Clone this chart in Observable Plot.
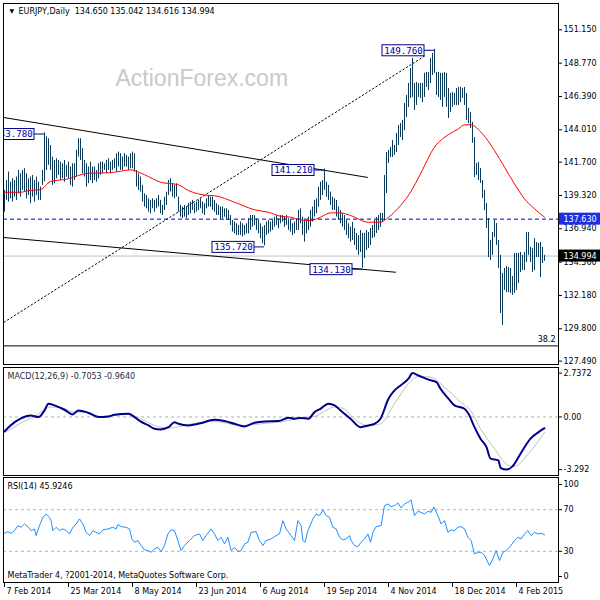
<!DOCTYPE html>
<html><head><meta charset="utf-8">
<script src="https://cdn.jsdelivr.net/npm/d3@7"></script>
<script src="https://cdn.jsdelivr.net/npm/@observablehq/plot@0.6"></script>
<style>
html,body{margin:0;padding:0;background:#fff}
#chart{position:relative;width:600px;height:600px;overflow:hidden;background:#fff}
#chart svg{position:absolute;left:0;background:#fff}
</style></head><body><div id="chart"></div>
<script>
// ---------- data ----------
const barHigh = [139.68,140.39,140.99,140.27,140.51,140.39,140.63,141.11,140.87,141.11,
141.23,140.87,140.51,140.63,140.75,140.39,140.63,140.27,139.92,141.11,
143.78,143.49,143.37,142.89,142.06,141.82,141.94,141.82,141.70,141.58,
141.82,141.47,141.70,141.35,141.58,141.58,142.54,143.37,143.37,142.66,
141.82,141.58,141.35,141.70,141.35,141.35,141.11,141.58,141.70,141.70,
141.58,141.82,141.94,141.70,141.82,141.94,142.30,142.42,142.30,142.06,
142.30,142.18,142.06,142.30,142.42,142.30,141.11,140.87,140.63,140.04,
139.44,139.32,139.08,138.97,139.08,138.97,139.08,139.32,138.97,138.61,
139.20,139.56,140.39,140.51,140.16,140.04,140.16,139.20,138.61,138.49,
138.61,138.49,138.73,138.85,138.97,138.73,138.85,138.97,139.08,138.85,
138.73,139.08,139.32,139.20,139.20,138.97,138.73,138.61,138.49,138.49,
138.37,138.37,138.25,137.89,137.54,137.42,137.30,137.18,137.42,137.30,
137.18,137.30,137.66,137.89,137.89,137.89,137.66,137.54,137.30,137.06,
137.18,137.42,137.54,137.42,137.54,137.77,137.89,137.66,137.89,137.89,
137.77,137.89,137.66,137.54,137.30,137.42,137.66,138.25,138.37,137.78,
137.54,137.54,137.78,138.25,138.49,138.97,139.08,139.92,140.27,140.39,
141.21,140.27,140.04,139.56,139.20,139.08,138.97,138.49,138.25,138.01,
137.89,137.54,137.30,137.06,137.39,136.96,136.61,136.46,136.82,136.61,
136.61,136.82,136.68,136.96,137.18,137.54,137.75,137.89,138.04,138.04,
140.75,142.39,142.54,142.75,143.25,142.89,143.75,144.32,144.46,144.68,
145.89,146.46,147.32,148.39,149.11,147.32,147.39,147.32,147.32,147.32,
148.04,148.11,148.11,149.11,149.46,149.76,148.11,148.11,148.04,148.04,
148.11,148.04,146.96,146.61,146.68,146.61,146.96,147.04,147.04,146.96,
147.04,146.61,145.54,145.25,144.54,143.46,141.61,141.68,141.25,140.39,
139.68,138.75,137.68,136.11,136.68,137.54,137.32,136.11,135.04,133.75,
134.11,134.25,134.18,134.11,133.54,135.18,135.18,135.18,135.25,135.04,
135.25,136.68,136.68,135.61,135.54,136.25,135.96,135.89,135.96,135.61,
135.042];
const barLow = [138.13,138.97,138.85,139.08,138.85,139.20,138.97,139.44,139.20,139.68,
139.56,139.08,139.32,138.73,139.20,138.85,139.32,138.97,138.97,140.04,
140.30,141.11,141.47,141.11,140.04,140.16,140.51,140.75,140.39,140.51,
140.27,140.63,140.51,140.04,139.92,140.39,140.63,142.06,141.82,140.87,
140.63,139.92,140.16,140.39,140.16,140.39,140.27,140.51,140.75,140.87,
141.11,140.87,141.11,140.87,141.11,141.23,140.99,141.35,141.11,141.11,
141.35,141.35,141.11,141.23,141.23,140.99,139.92,139.68,139.56,138.85,
138.49,138.37,138.13,138.01,138.37,138.13,138.37,138.49,138.01,137.89,
138.25,138.61,139.32,139.56,139.20,139.08,139.20,138.13,137.77,137.66,
137.77,137.66,137.89,138.01,138.25,138.01,138.13,138.25,138.37,138.01,
137.89,138.37,138.49,138.49,138.25,138.13,137.89,137.89,137.54,137.66,
137.77,137.54,137.54,137.18,136.70,136.58,136.47,136.47,136.47,136.35,
136.47,136.58,136.58,136.82,137.06,137.18,136.82,136.58,136.23,135.87,
135.72,136.47,136.58,136.70,136.82,137.06,137.18,136.94,137.30,137.42,
137.06,137.18,136.82,136.70,136.47,136.58,136.82,136.82,137.30,136.47,
135.99,136.58,136.82,137.06,137.42,137.78,138.01,138.49,138.97,139.32,
139.68,139.20,138.97,138.61,138.25,138.25,137.78,137.54,137.30,137.06,
136.82,136.47,136.23,135.99,136.11,135.75,135.39,135.04,135.25,134.13,
134.82,135.39,135.54,135.75,136.25,136.32,136.61,136.82,137.04,137.39,
137.54,139.46,141.61,142.04,142.04,142.18,142.39,142.89,143.46,143.25,
143.96,144.89,145.61,146.25,146.32,145.39,145.75,146.32,146.25,145.96,
146.32,147.04,146.82,147.32,147.89,148.04,146.46,146.32,146.11,145.61,
146.32,145.61,144.82,145.25,145.61,145.75,145.75,145.75,145.96,146.25,
145.75,144.68,144.46,144.11,143.04,140.61,140.75,140.39,140.18,139.11,
138.25,136.96,134.89,134.68,135.04,136.32,135.75,134.11,130.89,130.04,
132.54,132.39,132.39,132.32,132.18,132.32,132.54,133.04,133.82,133.96,
133.96,134.54,135.04,134.54,133.82,133.96,134.89,134.89,133.46,134.46,
134.616];

const maIdx = [0,8,12,18,23,32,37,42,52,58,63,70,78,87,92,102,105,115,125,132,138,143,148,153,158,163,168,173,182,188,192,198,203,208,215,222,227,230,233,239,245,250,255,260,265,270];
const maVal = [139.55,139.55,139.67,139.74,140.32,140.51,140.75,140.91,140.94,141.05,141.15,140.80,140.27,140.08,139.67,139.32,139.30,138.84,138.30,138.12,137.84,137.77,137.58,137.53,137.77,138.08,138.08,137.89,137.41,137.41,137.77,138.60,139.55,140.87,142.77,143.67,144.08,144.37,144.37,143.72,142.53,141.34,140.15,139.08,138.37,137.77];

const macdIdx = [0,3,8,13,17,20,22,25,30,34,37,41,43,47,52,55,62,65,68,72,75,78,82,85,87,92,98,105,110,115,120,125,130,137,142,145,148,152,155,158,162,165,168,173,178,182,185,188,192,195,198,202,204,207,212,216,218,222,225,230,232,235,238,241,243,247,248,251,254,258,263,267,270];
const macdVal = [-0.91,-0.53,-0.11,0.09,-0.01,0.41,0.83,0.72,0.45,0.16,0.41,0.30,0.20,-0.01,0.03,0.14,0.20,-0.01,-0.28,-0.53,-0.74,-0.78,-0.64,-0.33,-0.43,-0.53,-0.39,-0.18,-0.26,-0.43,-0.59,-0.36,-0.28,-0.26,-0.05,-0.11,-0.06,-0.11,0.30,0.51,0.83,0.72,0.41,-0.11,-0.64,-0.53,-0.43,-0.11,1.14,1.66,1.97,2.39,2.74,2.59,2.33,2.18,1.76,1.14,0.72,0.51,0.20,-0.64,-1.36,-1.89,-2.61,-2.72,-3.18,-3.29,-3.09,-2.30,-1.36,-0.95,-0.7053];
const sigIdx = [0,2,8,15,23,27,35,40,48,62,68,75,82,92,105,118,128,142,148,155,160,165,170,173,182,188,195,202,207,213,220,228,233,238,245,252,255,262,270];
const sigVal = [-0.95,-0.84,-0.39,0.03,0.61,0.61,0.30,0.30,0.03,0.16,-0.11,-0.53,-0.70,-0.47,-0.28,-0.53,-0.43,-0.22,-0.05,0.03,0.35,0.62,0.50,0.09,-0.53,-0.43,0.83,2.07,2.53,2.49,1.86,0.93,0.41,-0.74,-1.99,-3.03,-3.09,-2.30,-0.964];

const rsiIdx = [0,1.7,3.3,5,6.7,8.3,10,11.7,13.3,15,15.8,17.5,19.2,20.8,22.5,23.3,24.2,25.8,27.5,29.2,30.8,32.5,34.2,35.8,37.5,39.2,40.8,42.5,44.2,45.8,47.5,49.2,51.7,54.2,55.8,56.7,58.3,60.8,62.5,63.7,65,66.7,68.3,70,71.7,73.3,75,76.7,78.3,80,81.7,83.3,85,86.7,88.3,90,92.5,95,97.5,99.2,100.8,103.3,105,106.7,108.3,110,111.7,113.3,115,116.7,118.3,120,121.7,123.3,125.8,127.5,129.2,130.8,133.3,135.8,137.5,139.2,140.8,143.3,145,146.7,148.3,
149.2,150.3,151.7,154.2,155.8,157.5,159.2,160.8,162.5,164.2,165.8,167.5,169.2,170.8,172.5,173.3,175,176.7,178.3,180,181.7,183,184.2,185.8,188.3,190,191.7,193.3,195,196.7,198.3,200,201.7,203.3,205,206.7,208.3,210,211.7,213.3,214.7,216.7,218.3,220,221.7,223.3,225,226.7,228.3,230,231.7,233.3,235,236.7,238.3,240,242.5,244.2,245.8,247.5,249.2,250.8,252.5,255,256.7,258.3,260,261.7,263.3,265,266.7,268.3,270];
const rsiVal = [47.3,48.9,47.3,49.9,54.7,53.1,56.3,53.7,49.9,51.5,45.1,54.7,62.7,65.9,62.7,59.5,49.9,53.1,49.9,51.5,49.9,46.7,53.1,56.3,61.1,56.3,48.3,45.1,49.9,48.3,46.7,50.6,51.5,53.1,51.5,55.7,53.7,53.1,51.5,41.9,38.7,40.3,35.5,31.4,30.7,29.1,32.3,33.9,29.8,35.5,46.7,50.6,49.9,40.3,30.7,35.5,40.3,45.1,46.7,40.3,45.1,51.5,46.7,40.3,43.5,37.1,43.5,30.7,33.9,29.8,30.7,37.1,38.7,48.3,48.9,40.3,35.5,40.3,41.9,45.1,46.7,59.5,51.5,45.1,40.3,59.5,54.7,
40.3,38.7,49.9,61.1,65.9,64.3,69.8,64.3,62.7,53.1,51.5,43.5,40.9,41.9,45.1,40.3,35.5,34.5,38.7,41.9,46.7,38.7,48.3,53.7,54.7,73.9,75.5,73.0,73.9,76.5,71.7,75.5,77.1,79.4,64.3,68.4,67.5,65.9,68.4,67.5,72.6,64.3,56.3,59.5,48.3,50.6,49.9,53.1,53.7,51.5,43.5,40.3,27.5,29.1,29.1,25.9,16.3,22.7,30.7,21.1,29.1,30.7,33.9,40.3,43.5,41.9,46.7,49.9,45.1,48.3,46.7,47.3,45.9246];

const dateTickIdx = [0,32,64,96,128,160,192,224,256];
const dateTickLabels = ["7 Feb 2014","25 Mar 2014","8 May 2014","23 Jun 2014","6 Aug 2014","19 Sep 2014","4 Nov 2014","18 Dec 2014","4 Feb 2015"];
const priceTicks = [151.150,148.770,146.390,144.010,141.700,139.320,136.940,134.560,132.180,129.800,127.490];
const macdTicks = [2.7372,0,-3.292];
const macdTickLabels = ["2.7372","0.00","-3.292"];
const rsiMidTicks = [70,30];
const rsiTop = 100, rsiBottom = 0;

const swingIdx = [20,160,130,179,215];
const swingPrice = [143.78,141.21,135.72,134.13,149.76];

const upperLineIdx = [-0.5,181.5], upperLineVal = [144.89,140.61];
const lowerLineIdx = [-0.5,195.5], lowerLineVal = [136.32,133.84];
const dottedLineIdx = [-0.2,210.5], dottedLineVal = [130.27,149.32];

const levelLine = 137.630, bidPrice = 134.994, fibLevel = 128.58, fibLabel = "38.2";
const titleText = "EURJPY,Daily  134.650 135.042 134.616 134.994";

// ---------- helpers ----------
const bars = barHigh.map((h, i) => ({i, hi: h, lo: barLow[i]}));
const pairs = (a, b) => a.map((x, k) => ({i: x, v: b[k]}));
const ma = pairs(maIdx, maVal), macd = pairs(macdIdx, macdVal), sig = pairs(sigIdx, sigVal), rsi = pairs(rsiIdx, rsiVal);
const swings = swingIdx.map((x, k) => ({i: x, p: swingPrice[k]}));
const trend = [
  ...pairs(upperLineIdx, upperLineVal).map(d => ({...d, k: "u"})),
  ...pairs(lowerLineIdx, lowerLineVal).map(d => ({...d, k: "l"}))
];
const dotted = pairs(dottedLineIdx, dottedLineVal);

const xDomain = [-0.5, 277];
const XR = xDomain[1];
const FONT = "DejaVu Sans";
const AX = "#000";
const common = {width: 600, marginLeft: 3, marginRight: 42,
  style: {fontFamily: FONT, fontSize: "8px", background: "#fff", overflow: "visible"}};
const rightLabels = (vals, fmt, opts = {}) => [
  Plot.ruleY(vals, {y: d => d, x1: XR, x2: XR, insetRight: -4, stroke: AX, ...opts}),
  Plot.text(vals, {y: d => d, text: fmt, frameAnchor: "right", dx: 5, textAnchor: "start", lineAnchor: "middle", fill: AX, fontSize: 8, fontFamily: FONT, ...opts})
];
const valueBox = (v, bg) => [
  Plot.rect([v], {x1: XR, x2: XR, y1: d => d, y2: d => d, insetRight: -42, insetTop: -6, insetBottom: -6, fill: bg}),
  Plot.text([v], {y: d => d, text: d => d.toFixed(3), frameAnchor: "right", dx: 5, textAnchor: "start", lineAnchor: "middle", fill: "#fff", fontSize: 8, fontFamily: FONT})
];

// ---------- main price panel ----------
const main = Plot.plot({
  ...common, height: 366, marginTop: 3, marginBottom: 2,
  x: {domain: xDomain, axis: null},
  y: {domain: [127.25, 153.03], axis: null},
  marks: [
    Plot.text(["ActionForex.com"], {frameAnchor: "top-left", dx: 112, dy: 75.5, textAnchor: "start", lineAnchor: "middle", fontSize: 23, fontFamily: "Liberation Sans", fill: "#c9c9c9"}),
    Plot.ruleY([bidPrice], {stroke: "#c0c0c0"}),
    Plot.ruleY([levelLine], {stroke: "#0000c8", strokeDasharray: "4,3"}),
    Plot.ruleY([fibLevel], {stroke: "#000"}),
    Plot.text([fibLabel], {frameAnchor: "right", y: fibLevel, dx: -3, dy: -6, textAnchor: "end", lineAnchor: "middle", fontSize: 8, fill: "#000"}),
    Plot.line(dotted, {x: "i", y: "v", stroke: "#000", strokeWidth: 1, strokeDasharray: "1.5,2.5"}),
    Plot.line(trend, {x: "i", y: "v", z: "k", stroke: "#000", strokeWidth: 1}),
    Plot.ruleX(bars, {x: "i", y1: "lo", y2: "hi", stroke: "#0b3a5a", strokeWidth: 1}),
    Plot.line(ma, {x: "i", y: "v", stroke: "#ff0000", strokeWidth: 1, curve: "monotone-x"}),
    Plot.ruleY(swings, {y: "p", x1: "i", x2: "i", insetLeft: -10, dy: 1, stroke: "#00008b"}),
    Plot.rect(swings, {x1: "i", x2: "i", y1: "p", y2: "p", insetLeft: -52, insetRight: 10, insetTop: -4, insetBottom: -7, fill: "#fff", stroke: "#00008b", clip: true}),
    Plot.text(swings, {x: "i", y: "p", text: d => d.p.toFixed(3), dx: -31, dy: 1.5, textAnchor: "middle", lineAnchor: "middle", fontFamily: "DejaVu Sans Mono", fontSize: 9.2, fill: "#0000a0", clip: true}),
    Plot.text(["\u25BC"], {frameAnchor: "top-left", dx: 6, dy: 7.5, textAnchor: "start", lineAnchor: "middle", fontSize: 6, fill: "#000"}),
    Plot.text([titleText], {frameAnchor: "top-left", dx: 15, dy: 7.8, textAnchor: "start", lineAnchor: "middle", fontSize: 8, fill: "#000"}),
    ...rightLabels(priceTicks, d => d.toFixed(3)),
    ...valueBox(levelLine, "#1f2fe0"),
    ...valueBox(bidPrice, "#000"),
    Plot.frame({stroke: "#000"})
  ]
});

// ---------- MACD panel ----------
const macdPlot = Plot.plot({
  ...common, height: 110, marginTop: 1, marginBottom: 1,
  x: {domain: xDomain, axis: null},
  y: {domain: [-3.66, 3.09], axis: null},
  marks: [
    Plot.ruleY([0], {stroke: "#b4b4b4", strokeDasharray: "3,3"}),
    Plot.line(sig, {x: "i", y: "v", stroke: "#c0c0c0", strokeWidth: 1, curve: "monotone-x"}),
    Plot.line(macd, {x: "i", y: "v", stroke: "#00008b", strokeWidth: 2, curve: "monotone-x"}),
    Plot.text(["MACD(12,26,9) -0.7053 -0.9640"], {frameAnchor: "top-left", dx: 4, dy: 8.5, textAnchor: "start", lineAnchor: "middle", fontSize: 8, fill: "#1b2b44"}),
    Plot.ruleY(macdTicks, {y: d => d, x1: XR, x2: XR, insetRight: -4, stroke: AX}),
    Plot.text(macdTicks, {y: d => d, text: (d, k) => macdTickLabels[k], frameAnchor: "right", dx: 5, textAnchor: "start", lineAnchor: "middle", fill: AX, fontSize: 8}),
    Plot.frame({stroke: "#000"})
  ]
});

// ---------- RSI panel ----------
const rsiPlot = Plot.plot({
  ...common, height: 124, marginTop: 1, marginBottom: 18,
  x: {domain: xDomain, axis: null},
  y: {domain: [0, 100.96], axis: null},
  marks: [
    Plot.ruleY(rsiMidTicks, {y: d => d, stroke: "#b4b4b4", strokeDasharray: "3,3"}),
    Plot.line(rsi, {x: "i", y: "v", stroke: "#1e90ff", strokeWidth: 1}),
    Plot.text(["RSI(14) 45.9246"], {frameAnchor: "top-left", dx: 4, dy: 9.3, textAnchor: "start", lineAnchor: "middle", fontSize: 8, fill: "#000"}),
    Plot.text(["MetaTrader 4, ?2001-2014, MetaQuotes Software Corp."], {frameAnchor: "bottom-left", dx: 4, dy: -7, textAnchor: "start", lineAnchor: "middle", fontSize: 8, fill: "#000"}),
    ...rightLabels(rsiMidTicks, d => String(d)),
    ...rightLabels([rsiTop], d => String(d), {dy: 6}),
    ...rightLabels([rsiBottom], d => String(d), {dy: -6}),
    Plot.ruleX(dateTickIdx, {x: d => d, y1: 0, y2: 0, insetBottom: -5, stroke: AX}),
    Plot.text(dateTickIdx, {x: d => d, text: (d, k) => dateTickLabels[k], frameAnchor: "bottom", dx: 2, dy: 9, textAnchor: "start", lineAnchor: "middle", fontSize: 8, fill: AX}),
    Plot.frame({stroke: "#000"})
  ]
});

const root = document.getElementById("chart");
[[main, 0], [macdPlot, 366], [rsiPlot, 476]].forEach(([svg, top]) => {
  svg.style.top = top + "px";
  root.appendChild(svg);
});
</script>
</body></html>
